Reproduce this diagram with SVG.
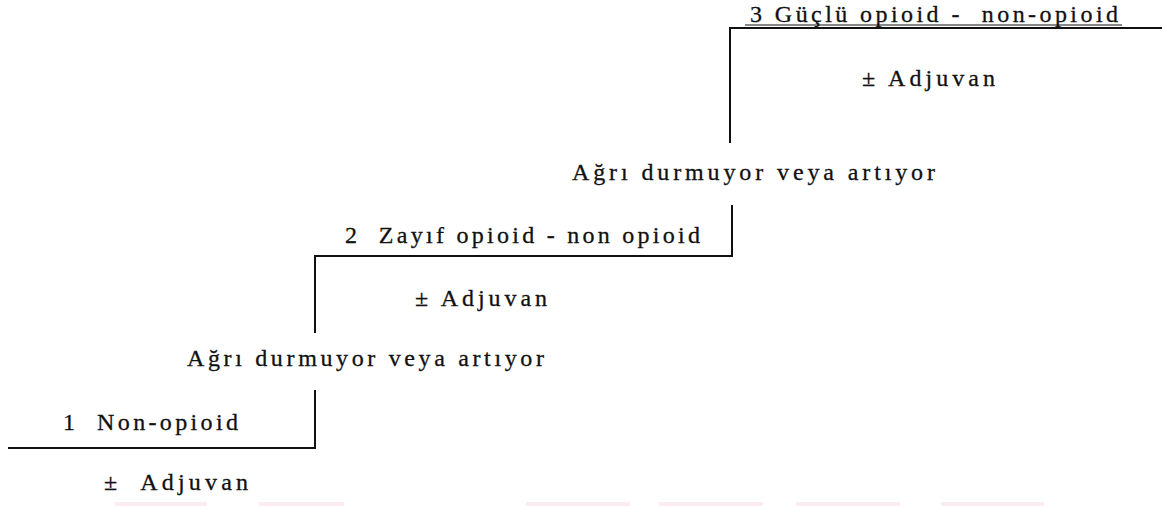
<svg xmlns="http://www.w3.org/2000/svg" width="1162" height="506" viewBox="0 0 1162 506">
<style>
.t{font-family:"Liberation Serif","Times New Roman",serif;font-size:24px;fill:#111;stroke:#111;stroke-width:0.3;white-space:pre}
.ln{stroke:#111;stroke-width:2;fill:none}
.pk{fill:#fdecef}
</style>
<rect width="1162" height="506" fill="#fff"/>
<g id="connectors">
<polyline class="ln" points="8,448 315,448 315,390"/>
<polyline class="ln" points="315,333 315,256 732,256 732,205"/>
<polyline class="ln" points="730,143 730,28 1162,28"/>
<line x1="745" y1="25" x2="1122" y2="25" stroke="#111" stroke-width="1"/>
</g>
<g id="step3">
<text class="t" x="750" y="22" textLength="368" lengthAdjust="spacing" xml:space="preserve">3 Güçlü opioid -  non-opioid</text>
<text class="t" x="862" y="86" textLength="133" lengthAdjust="spacing">± Adjuvan</text>
</g>
<g id="transition2">
<text class="t" x="572" y="180" textLength="363" lengthAdjust="spacing">Ağrı durmuyor veya artıyor</text>
</g>
<g id="step2">
<text class="t" x="345" y="243" textLength="355" lengthAdjust="spacing" xml:space="preserve">2  Zayıf opioid - non opioid</text>
<text class="t" x="415" y="306" textLength="132" lengthAdjust="spacing">± Adjuvan</text>
</g>
<g id="transition1">
<text class="t" x="187" y="366" textLength="357" lengthAdjust="spacing">Ağrı durmuyor veya artıyor</text>
</g>
<g id="step1">
<text class="t" x="63" y="430" textLength="175" lengthAdjust="spacing" xml:space="preserve">1  Non-opioid</text>
<text class="t" x="104" y="490" textLength="144" lengthAdjust="spacing" xml:space="preserve">±  Adjuvan</text>
</g>
<g id="marks">
<rect class="pk" x="115" y="502" width="92" height="4"/>
<rect class="pk" x="259" y="502" width="85" height="4"/>
<rect class="pk" x="526" y="502" width="104" height="4"/>
<rect class="pk" x="659" y="502" width="104" height="4"/>
<rect class="pk" x="796" y="502" width="104" height="4"/>
<rect class="pk" x="941" y="502" width="103" height="4"/>
</g>
</svg>
